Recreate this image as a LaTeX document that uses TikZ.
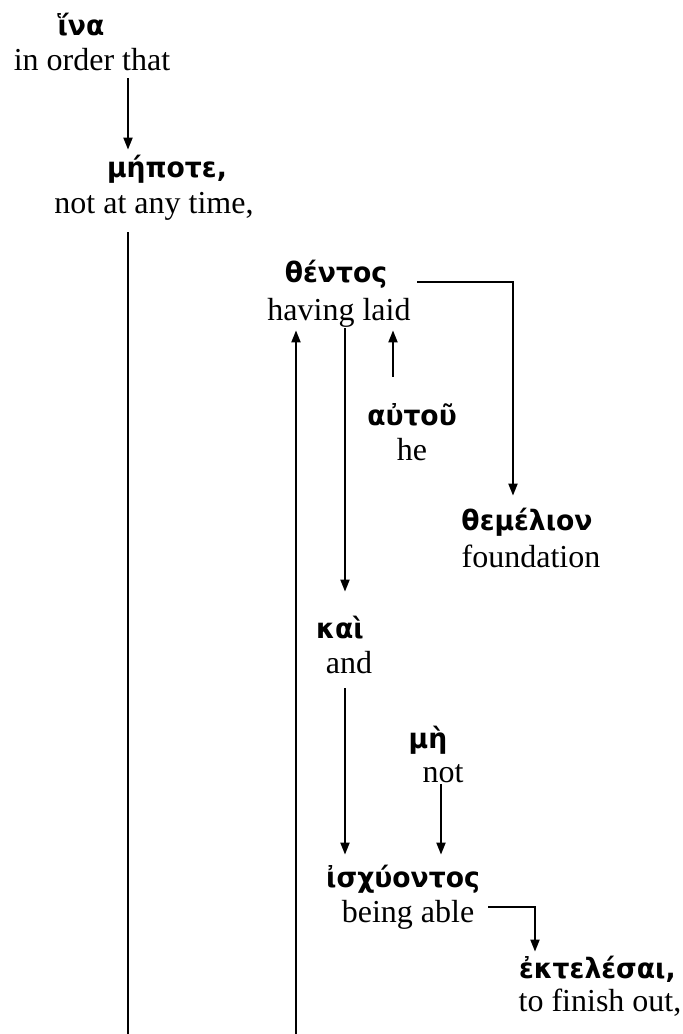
\documentclass[tikz,border=0pt]{standalone}
\usepackage{fontspec}
\setmainfont{Liberation Serif}
\newfontfamily\gkfont{DejaVu Sans}[FakeStretch=0.95]
\usetikzlibrary{arrows.meta}

\tikzset{
    gk/.style={anchor=base, inner sep=1pt, text height=11pt, text depth=3pt,
        font=\gkfont\bfseries\fontsize{14}{16}\selectfont},
    gl/.style={anchor=base, inner sep=1pt, text height=11pt, text depth=3pt,
        font=\fontsize{16}{19}\selectfont},
    ln/.style={line width=1pt},
    arr/.style={line width=1pt, -{Triangle[length=6pt,width=4.5pt]}}
}

\begin{document}
\begin{tikzpicture}[x=0.5pt, y=-0.5pt]
    \useasboundingbox (0,0) rectangle (683,1034);

    % words and glosses
    \node[gk] (ina) at (81,35) {ἵνα};
    \node[gl] (inaGl) at (92,70) {in order that};

    \node[gk] (mepote) at (167,177) {μήποτε,};
    \node[gl] (mepoteGl) at (154,213) {not at any time,};

    \node[gk] (thentos) at (336,282) {θέντος};
    \node[gl] (thentosGl) at (339,320) {having laid};

    \node[gk] (autou) at (412,425) {αὐτοῦ};
    \node[gl] (autouGl) at (412,460) {he};

    \node[gk] (themelion) at (527,530) {θεμέλιον};
    \node[gl] (themelionGl) at (531,567) {foundation};

    \node[gk] (kai) at (340,638) {καὶ};
    \node[gl] (kaiGl) at (349,673) {and};

    \node[gk] (me) at (428,748) {μὴ};
    \node[gl] (meGl) at (443,782) {not};

    \node[gk] (ischyontos) at (403,887) {ἰσχύοντος};
    \node[gl] (ischyontosGl) at (408,922) {being able};

    \node[gk, anchor=base east] (ektelesai) at (678,978) {ἐκτελέσαι,};
    \node[gl] (ektelesaiGl) at (600,1011) {to finish out,};

    % open ends at the bottom
    \coordinate (end1) at (128,1034);
    \coordinate (end2) at (296,1034);

    % connectors
    \draw[arr, shorten >=1.5pt] ([xshift=18pt]inaGl.south) -- ([xshift=-19.5pt]mepote.north);
    \draw[ln, shorten <=5.5pt] ([xshift=-13pt]mepoteGl.south) -- (end1);
    \draw[arr, shorten >=1pt] (end2) -- ([xshift=-21.5pt]thentosGl.south);

    \draw[arr, shorten >=5pt] ([xshift=40.5pt]thentos.base) -| ([xshift=-7pt]themelion.north);
    \draw[arr, shorten >=11pt] ([xshift=3pt]thentosGl.south) -- ([xshift=2.5pt]kai.north);
    \draw[arr, shorten <=12pt, shorten >=1pt] ([xshift=-9.5pt]autou.north) -- ([xshift=27pt]thentosGl.south);

    \draw[arr, shorten <=3.5pt, shorten >=4pt] ([xshift=-2pt]kaiGl.south) -- ([xshift=-29pt]ischyontos.north);
    \draw[arr, shorten <=-3pt, shorten >=4pt] ([xshift=-1pt]meGl.south) -- ([xshift=19pt]ischyontos.north);

    \draw[arr, shorten >=1pt] ([xshift=40pt, yshift=7.5pt]ischyontosGl.base) -| ([xshift=-71.5pt]ektelesai.north east);
\end{tikzpicture}
\end{document}
